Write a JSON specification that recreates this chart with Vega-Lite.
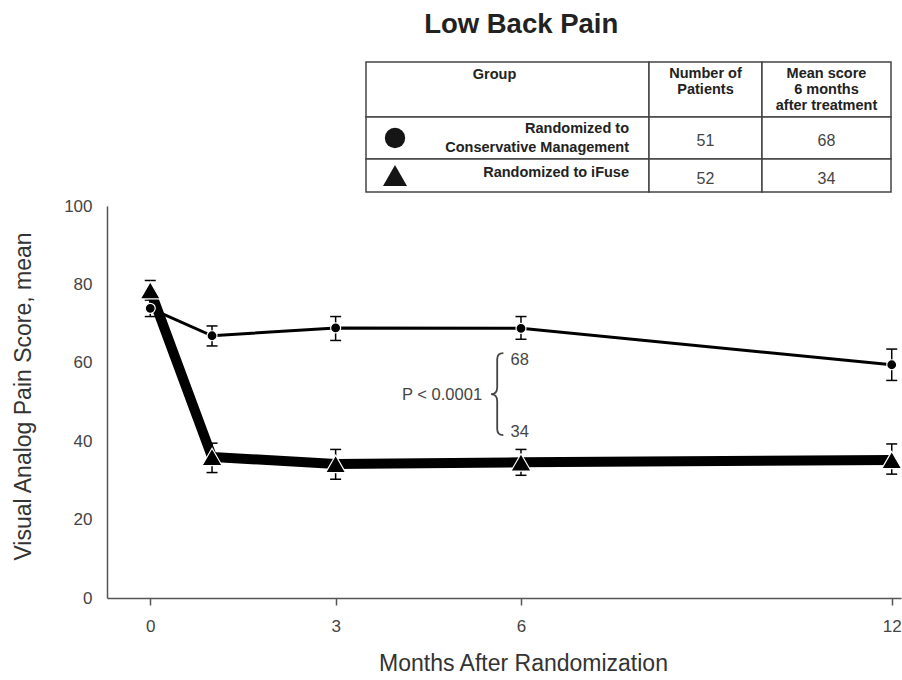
{
  "$schema": "https://vega.github.io/schema/vega-lite/v6.json",
  "background": "white",
  "padding": {"left": 12, "top": 10, "right": 0, "bottom": 0},
  "title": {"text": "Low Back Pain", "font": "Liberation Sans", "fontSize": 27.5, "fontWeight": "bold", "color": "#222", "anchor": "middle", "dx": 59, "offset": 23},
  "config": {
    "view": {"stroke": null},
    "font": "Liberation Sans",
    "axis": {"grid": false, "domainColor": "#555", "domainWidth": 1.5, "tickColor": "#555", "tickWidth": 1.5, "labelColor": "#444", "labelFont": "Liberation Sans", "labelFontSize": 17, "titleFont": "Liberation Sans", "titleFontSize": 23, "titleFontWeight": "normal", "titleColor": "#333"}
  },
  "datasets": {
    "series": [
      {"group": "Conservative Management", "month": 0, "score": 73.9, "lo": 71.8, "hi": 76.4},
      {"group": "Conservative Management", "month": 1, "score": 66.9, "lo": 64.3, "hi": 69.4},
      {"group": "Conservative Management", "month": 3, "score": 68.9, "lo": 65.7, "hi": 71.8},
      {"group": "Conservative Management", "month": 6, "score": 68.8, "lo": 66.0, "hi": 71.8},
      {"group": "Conservative Management", "month": 12, "score": 59.5, "lo": 55.5, "hi": 63.5},
      {"group": "iFuse", "month": 0, "score": 78.5, "lo": 76.0, "hi": 81.0},
      {"group": "iFuse", "month": 1, "score": 36.0, "lo": 32.0, "hi": 39.5},
      {"group": "iFuse", "month": 3, "score": 34.2, "lo": 30.3, "hi": 37.9},
      {"group": "iFuse", "month": 6, "score": 34.6, "lo": 31.3, "hi": 37.9},
      {"group": "iFuse", "month": 12, "score": 35.2, "lo": 31.6, "hi": 39.3}
    ],
    "cells": [
      {"left": -0.5, "right": 0.5, "top": -0.5, "bottom": 0.5},
      {"left": 0.5, "right": 1.5, "top": -0.5, "bottom": 0.5},
      {"left": 1.5, "right": 2.5, "top": -0.5, "bottom": 0.5},
      {"left": -0.5, "right": 0.5, "top": 0.5, "bottom": 1.5},
      {"left": 0.5, "right": 1.5, "top": 0.5, "bottom": 1.5},
      {"left": 1.5, "right": 2.5, "top": 0.5, "bottom": 1.5},
      {"left": -0.5, "right": 0.5, "top": 1.5, "bottom": 2.5},
      {"left": 0.5, "right": 1.5, "top": 1.5, "bottom": 2.5},
      {"left": 1.5, "right": 2.5, "top": 1.5, "bottom": 2.5}
    ],
    "headers": [
      {"col": 0, "row": 0, "text": "Group"},
      {"col": 1, "row": 0, "text": "Number of\nPatients"},
      {"col": 2, "row": 0, "text": "Mean score\n6 months\nafter treatment"}
    ],
    "groups": [
      {"group": "Conservative Management", "label": "Randomized to\nConservative Management", "row": 1, "n": 51, "mean": 68},
      {"group": "iFuse", "label": "Randomized to iFuse", "row": 2, "n": 52, "mean": 34}
    ],
    "notes": [
      {"note": "p", "text": "P < 0.0001"},
      {"note": "hi", "text": "68"},
      {"note": "lo", "text": "34"}
    ]
  },
  "bounds": "flush",
  "spacing": 14,
  "resolve": {"scale": {"x": "independent", "y": "independent", "shape": "independent", "size": "independent", "strokeWidth": "independent"}},
  "vconcat": [
    {
      "width": 794,
      "height": 130,
      "layer": [
        {
          "data": {"name": "cells"},
          "mark": {"type": "rect", "fill": "white", "stroke": "#444", "strokeWidth": 1.5},
          "encoding": {
            "x": {"field": "left", "type": "quantitative", "scale": {"domain": [-0.5, 0.5, 1.5, 2.5], "range": [259, 542, 655, 784], "nice": false, "zero": false}, "axis": null},
            "x2": {"field": "right"},
            "y": {"field": "top", "type": "quantitative", "scale": {"domain": [-0.5, 0.5, 1.5, 2.5], "range": [0, 55, 97, 130], "nice": false, "zero": false}, "axis": null},
            "y2": {"field": "bottom"}
          }
        },
        {
          "data": {"name": "headers"},
          "transform": [{"filter": "datum.col === 0"}],
          "mark": {"type": "text", "font": "Liberation Sans", "fontWeight": "bold", "fontSize": 14.5, "color": "#222", "baseline": "top", "align": "center", "lineBreak": "\n", "lineHeight": 16, "dx": -13, "dy": -21.5},
          "encoding": {
            "x": {"field": "col", "type": "quantitative"},
            "y": {"field": "row", "type": "quantitative"},
            "text": {"field": "text"}
          }
        },
        {
          "data": {"name": "headers"},
          "transform": [{"filter": "datum.col > 0"}],
          "mark": {"type": "text", "font": "Liberation Sans", "fontWeight": "bold", "fontSize": 14.5, "color": "#222", "baseline": "top", "align": "center", "lineBreak": "\n", "lineHeight": 16, "dy": -22.5},
          "encoding": {
            "x": {"field": "col", "type": "quantitative"},
            "y": {"field": "row", "type": "quantitative"},
            "text": {"field": "text"}
          }
        },
        {
          "data": {"name": "groups"},
          "mark": {"type": "point", "filled": true, "fill": "#151515", "strokeWidth": 0, "opacity": 1, "xOffset": 29},
          "encoding": {
            "x": {"datum": -0.5, "type": "quantitative"},
            "y": {"field": "row", "type": "quantitative"},
            "shape": {"field": "group", "type": "nominal", "scale": {"domain": ["Conservative Management", "iFuse"], "range": ["circle", "triangle-up"]}, "legend": null},
            "size": {"field": "group", "type": "nominal", "scale": {"domain": ["Conservative Management", "iFuse"], "range": [415, 576]}, "legend": null}
          }
        },
        {
          "data": {"name": "groups"},
          "transform": [{"filter": "datum.row === 1"}],
          "mark": {"type": "text", "font": "Liberation Sans", "fontWeight": "bold", "fontSize": 14.5, "color": "#222", "baseline": "middle", "align": "right", "lineBreak": "\n", "lineHeight": 19, "dx": -20, "dy": -9},
          "encoding": {
            "x": {"datum": 0.5, "type": "quantitative"},
            "y": {"field": "row", "type": "quantitative"},
            "text": {"field": "label"}
          }
        },
        {
          "data": {"name": "groups"},
          "transform": [{"filter": "datum.row === 2"}],
          "mark": {"type": "text", "font": "Liberation Sans", "fontWeight": "bold", "fontSize": 14.5, "color": "#222", "baseline": "middle", "align": "right", "lineBreak": "\n", "lineHeight": 19, "dx": -20, "dy": -2.5},
          "encoding": {
            "x": {"datum": 0.5, "type": "quantitative"},
            "y": {"field": "row", "type": "quantitative"},
            "text": {"field": "label"}
          }
        },
        {
          "data": {"name": "groups"},
          "mark": {"type": "text", "font": "Liberation Sans", "fontSize": 16, "color": "#444", "baseline": "middle", "align": "center", "dy": 3},
          "encoding": {
            "x": {"datum": 1, "type": "quantitative"},
            "y": {"field": "row", "type": "quantitative"},
            "text": {"field": "n"}
          }
        },
        {
          "data": {"name": "groups"},
          "mark": {"type": "text", "font": "Liberation Sans", "fontSize": 16, "color": "#444", "baseline": "middle", "align": "center", "dy": 3},
          "encoding": {
            "x": {"datum": 2, "type": "quantitative"},
            "y": {"field": "row", "type": "quantitative"},
            "text": {"field": "mean"}
          }
        }
      ]
    },
    {
      "width": 794,
      "height": 392,
      "layer": [
        {
          "data": {"name": "series"},
          "mark": {"type": "line", "color": "black"},
          "encoding": {
            "x": {"field": "month", "type": "quantitative", "scale": {"domain": [-0.7, 12.15], "nice": false, "zero": false}, "axis": {"values": [0, 3, 6, 12], "format": "d", "title": "Months After Randomization", "tickSize": 7, "labelPadding": 13, "titlePadding": 18, "titleX": 416}},
            "y": {"field": "score", "type": "quantitative", "scale": {"domain": [0, 100], "nice": false}, "axis": {"values": [0, 20, 40, 60, 80, 100], "format": "d", "title": "Visual Analog Pain Score, mean", "ticks": false, "labelPadding": 15, "titlePadding": 28, "titleY": 190}},
            "strokeWidth": {"field": "group", "type": "nominal", "scale": {"domain": ["Conservative Management", "iFuse"], "range": [3, 10]}, "legend": null},
            "order": {"field": "month", "type": "quantitative"}
          }
        },
        {
          "data": {"name": "series"},
          "mark": {"type": "rule", "color": "black", "strokeWidth": 1.5},
          "encoding": {
            "x": {"field": "month", "type": "quantitative"},
            "y": {"field": "lo", "type": "quantitative"},
            "y2": {"field": "hi"}
          }
        },
        {
          "data": {"name": "series"},
          "mark": {"type": "tick", "orient": "horizontal", "color": "black", "thickness": 1.5, "size": 11, "opacity": 1},
          "encoding": {
            "x": {"field": "month", "type": "quantitative"},
            "y": {"field": "lo", "type": "quantitative"}
          }
        },
        {
          "data": {"name": "series"},
          "mark": {"type": "tick", "orient": "horizontal", "color": "black", "thickness": 1.5, "size": 11, "opacity": 1},
          "encoding": {
            "x": {"field": "month", "type": "quantitative"},
            "y": {"field": "hi", "type": "quantitative"}
          }
        },
        {
          "data": {"name": "series"},
          "mark": {"type": "point", "filled": true, "fill": "black", "stroke": "white", "strokeWidth": 1.2, "opacity": 1},
          "encoding": {
            "x": {"field": "month", "type": "quantitative"},
            "y": {"field": "score", "type": "quantitative"},
            "shape": {"field": "group", "type": "nominal", "scale": {"domain": ["Conservative Management", "iFuse"], "range": ["circle", "triangle-up"]}, "legend": null},
            "size": {"field": "group", "type": "nominal", "scale": {"domain": ["Conservative Management", "iFuse"], "range": [100, 400]}, "legend": null}
          }
        },
        {
          "data": {"name": "notes"},
          "transform": [{"filter": "datum.note === 'p'"}],
          "mark": {"type": "text", "align": "right", "baseline": "middle", "font": "Liberation Sans", "fontSize": 16.5, "color": "#444"},
          "encoding": {
            "x": {"datum": 5.37, "type": "quantitative"},
            "y": {"datum": 51.8, "type": "quantitative"},
            "text": {"field": "text"}
          }
        },
        {
          "data": {"name": "notes"},
          "transform": [{"filter": "datum.note === 'p'"}],
          "mark": {"type": "point", "shape": "M0.15,-1C0.04,-1 0,-0.95 0,-0.85L0,-0.17C0,-0.05 -0.06,0 -0.15,0C-0.06,0 0,0.05 0,0.17L0,0.85C0,0.95 0.04,1 0.15,1", "filled": false, "stroke": "#444", "strokeWidth": 1.8, "size": 6724, "opacity": 1},
          "encoding": {
            "x": {"datum": 5.615, "type": "quantitative"},
            "y": {"datum": 52, "type": "quantitative"}
          }
        },
        {
          "data": {"name": "notes"},
          "transform": [{"filter": "datum.note === 'hi'"}],
          "mark": {"type": "text", "align": "left", "baseline": "middle", "font": "Liberation Sans", "fontSize": 16.5, "color": "#444"},
          "encoding": {
            "x": {"datum": 5.83, "type": "quantitative"},
            "y": {"datum": 60.7, "type": "quantitative"},
            "text": {"field": "text"}
          }
        },
        {
          "data": {"name": "notes"},
          "transform": [{"filter": "datum.note === 'lo'"}],
          "mark": {"type": "text", "align": "left", "baseline": "middle", "font": "Liberation Sans", "fontSize": 16.5, "color": "#444"},
          "encoding": {
            "x": {"datum": 5.83, "type": "quantitative"},
            "y": {"datum": 42.3, "type": "quantitative"},
            "text": {"field": "text"}
          }
        }
      ]
    }
  ]
}
